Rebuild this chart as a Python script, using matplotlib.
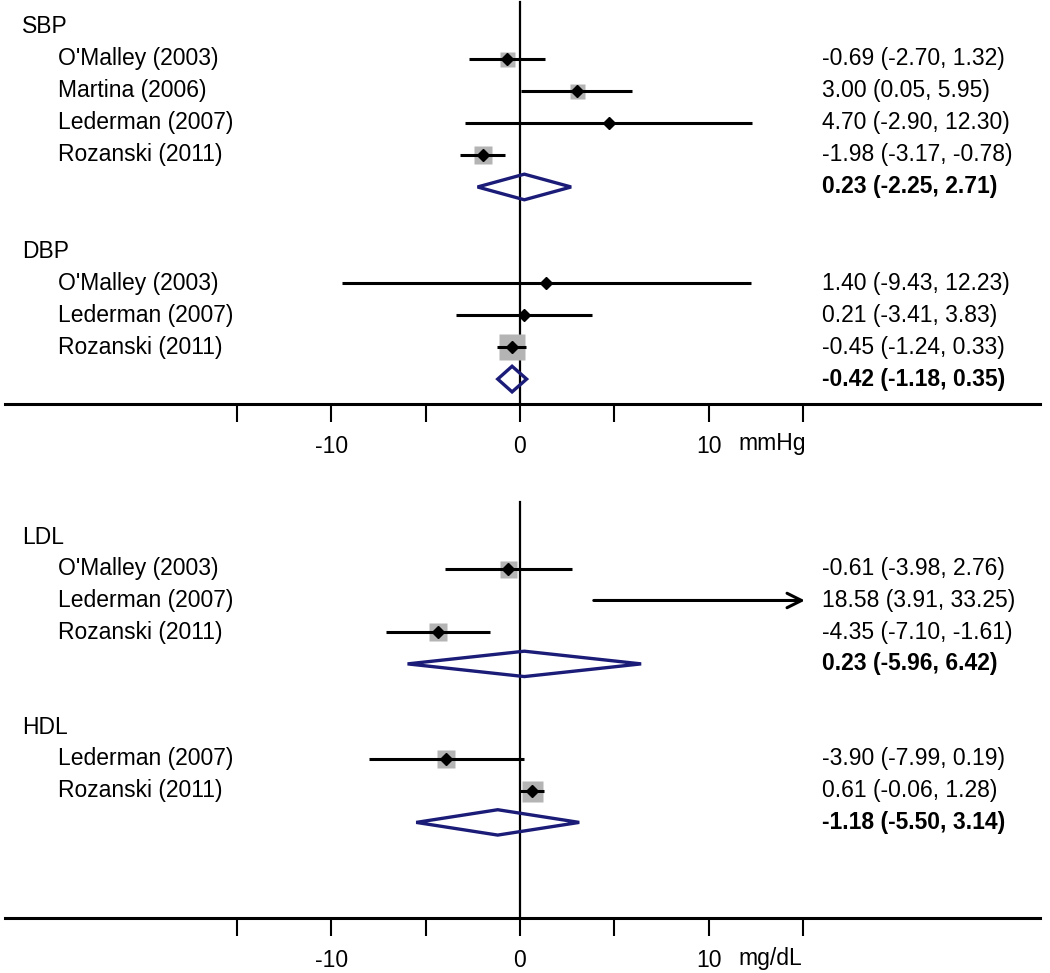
import matplotlib
matplotlib.use("Agg")
import matplotlib.pyplot as plt
from matplotlib.patches import Polygon

plt.rcParams['font.family'] = ['Liberation Sans', 'DejaVu Sans']

# ---------------- data ----------------
sbp_studies = ["O'Malley (2003)", "Martina (2006)", "Lederman (2007)", "Rozanski (2011)"]
sbp_est = [-0.69, 3.00, 4.70, -1.98]
sbp_lo = [-2.70, 0.05, -2.90, -3.17]
sbp_hi = [1.32, 5.95, 12.30, -0.78]
sbp_box = [15, 15, 0, 18]
sbp_pooled = (0.23, -2.25, 2.71)

dbp_studies = ["O'Malley (2003)", "Lederman (2007)", "Rozanski (2011)"]
dbp_est = [1.40, 0.21, -0.45]
dbp_lo = [-9.43, -3.41, -1.24]
dbp_hi = [12.23, 3.83, 0.33]
dbp_box = [0, 0, 26]
dbp_pooled = (-0.42, -1.18, 0.35)

ldl_studies = ["O'Malley (2003)", "Lederman (2007)", "Rozanski (2011)"]
ldl_est = [-0.61, 18.58, -4.35]
ldl_lo = [-3.98, 3.91, -7.10]
ldl_hi = [2.76, 33.25, -1.61]
ldl_box = [17, 0, 18]
ldl_pooled = (0.23, -5.96, 6.42)

hdl_studies = ["Lederman (2007)", "Rozanski (2011)"]
hdl_est = [-3.90, 0.61]
hdl_lo = [-7.99, -0.06]
hdl_hi = [0.19, 1.28]
hdl_box = [18, 21]
hdl_pooled = (-1.18, -5.50, 3.14)

tick_values = [-15, -10, -5, 0, 5, 10, 15]
tick_labels = ['', '-10', '', '0', '', '10', '']
clip_max = 15.1
units_top = 'mmHg'
units_bottom = 'mg/dL'

# ---------------- style ----------------
FS = 16.5
NAVY = '#1b1b78'
GREY = '#b4b4b4'
PX = 0.72  # points per pixel at dpi 100

fig = plt.figure(figsize=(10.5, 9.73), dpi=100)


def fmt(e, l, h):
    return f"{e:.2f} ({l:.2f}, {h:.2f})"


def draw_group(ax, y0, name, studies, est, lo, hi, box, pooled):
    tr = ax.get_yaxis_transform()
    ax.text(0.021, y0, name, transform=tr, ha='left', va='center', fontsize=FS)
    for i, s in enumerate(studies):
        y = y0 + 1 + i
        ax.text(0.0552, y, s, transform=tr, ha='left', va='center', fontsize=FS)
        ax.text(0.783, y, fmt(est[i], lo[i], hi[i]), transform=tr, ha='left',
                va='center', fontsize=FS)
        if hi[i] > clip_max:
            ax.annotate('', xy=(clip_max, y), xytext=(lo[i], y),
                        arrowprops=dict(arrowstyle='->', lw=2.2, color='black',
                                        mutation_scale=26, shrinkA=0, shrinkB=0),
                        zorder=4)
        else:
            ax.plot([lo[i], hi[i]], [y, y], color='black', lw=2.2,
                    solid_capstyle='butt', zorder=4)
            if box[i] > 0:
                ax.plot([est[i]], [y], marker='s', ms=box[i] * PX, color=GREY,
                        mec='none', zorder=3.5)
            ax.plot([est[i]], [y], marker='D', ms=6, color='black', mec='black',
                    zorder=5)
    yd = y0 + 1 + len(studies)
    e, l, h = pooled
    hh = 0.4
    ax.add_patch(Polygon([[l, yd], [e, yd - hh], [h, yd], [e, yd + hh]],
                         closed=True, fill=False, edgecolor=NAVY, lw=2.4, zorder=4))
    ax.text(0.783, yd, fmt(e, l, h), transform=ax.get_yaxis_transform(),
            ha='left', va='center', fontsize=FS, fontweight='bold')


def setup_axis(ax, axis_row, top_row, units, label_row):
    ax.set_xlim(-27.56, 28.09)
    ax.set_facecolor('none')
    for s in ['top', 'right']:
        ax.spines[s].set_visible(False)
    ax.spines['bottom'].set_position(('data', axis_row))
    ax.spines['bottom'].set_bounds(-27.3, 27.56)
    ax.spines['bottom'].set_linewidth(2.2)
    ax.spines['left'].set_position(('data', 0))
    ax.spines['left'].set_bounds(top_row, axis_row)
    ax.spines['left'].set_linewidth(1.6)
    ax.set_yticks([])
    ax.set_xticks(tick_values)
    ax.set_xticklabels(tick_labels)
    ax.tick_params(axis='x', direction='out', length=13, width=1.5, pad=9,
                   labelsize=FS)
    ax.text(11.6, label_row, units, ha='left', va='center', fontsize=FS)


# top panel: rows spaced 32 px, row 0 at y=27 px, axes spans 0..470 px
ax1 = fig.add_axes([0, 1 - 470 / 973, 1, 470 / 973])
ax1.set_ylim(13.84, -0.84)
draw_group(ax1, 0, 'SBP', sbp_studies, sbp_est, sbp_lo, sbp_hi, sbp_box, sbp_pooled)
draw_group(ax1, 7, 'DBP', dbp_studies, dbp_est, dbp_lo, dbp_hi, dbp_box, dbp_pooled)
setup_axis(ax1, 11.78, -0.78, units_top, 13.0)

# bottom panel: rows spaced 31.7 px, row 0 at y=537 px, axes spans 480..973 px
ax2 = fig.add_axes([0, 0, 1, 493 / 973])
ax2.set_ylim(13.75, -1.80)
draw_group(ax2, 0, 'LDL', ldl_studies, ldl_est, ldl_lo, ldl_hi, ldl_box, ldl_pooled)
draw_group(ax2, 6, 'HDL', hdl_studies, hdl_est, hdl_lo, hdl_hi, hdl_box, hdl_pooled)
setup_axis(ax2, 12.02, -1.10, units_bottom, 13.28)

fig.savefig('out.png', dpi=100)
